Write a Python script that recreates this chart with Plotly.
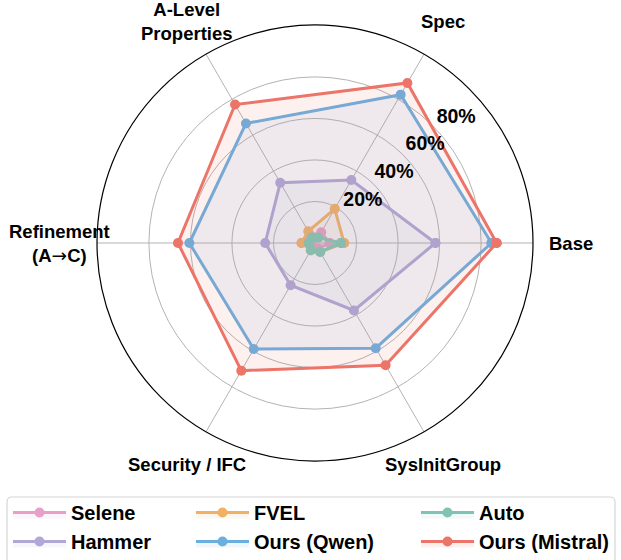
import math
import plotly.graph_objects as go

categories = ["Base", "Spec", "A-Level Properties", "Refinement (A→C)",
              "Security / IFC", "SysInitGroup"]
axis_labels = ["Base", "Spec", "A-Level<br>Properties",
               "Refinement<br>(A<span style='font-family:DejaVu Sans;font-weight:normal'>→</span>C)",
               "Security / IFC", "SysInitGroup"]

series_names = ["Selene", "Hammer", "FVEL", "Ours (Qwen)", "Auto", "Ours (Mistral)"]
selene = [7, 6, 4, 6.5, 3, 3]
hammer = [58, 35, 33.5, 24, 23.5, 37.5]
fvel = [14, 19, 6.5, 6.5, 4, 5]
qwen = [85, 82.5, 66.5, 60.5, 59, 58.5]
auto = [12.5, 3, 3, 3, 4, 5]
mistral = [87.5, 89, 77, 66, 71, 68]

tick_vals = [20, 40, 60, 80]
tick_text = ["20%", "40%", "60%", "80%"]

colors = {
    "Selene": "#e8a0c8",
    "Hammer": "#b1a8d8",
    "FVEL": "#f0b167",
    "Ours (Qwen)": "#6aafe0",
    "Auto": "#7dc4b6",
    "Ours (Mistral)": "#ec7468",
}
legend_of = {
    "Selene": "legend", "Hammer": "legend",
    "FVEL": "legend2", "Ours (Qwen)": "legend2",
    "Auto": "legend3", "Ours (Mistral)": "legend3",
}
values = [selene, hammer, fvel, qwen, auto, mistral]

def rgba(hexc, a):
    h = hexc.lstrip("#")
    r, g, b = int(h[0:2], 16), int(h[2:4], 16), int(h[4:6], 16)
    return f"rgba({r},{g},{b},{a})"

W, H = 621, 560
fig = go.Figure()

for name, vals in zip(series_names, values):
    c = colors[name]
    fig.add_trace(go.Scatterpolar(
        r=vals + [vals[0]],
        theta=categories + [categories[0]],
        mode="lines+markers",
        name=name,
        fill="toself",
        fillcolor=rgba(c, 0.10),
        line=dict(color=c, width=3),
        marker=dict(color=c, size=10),
        legend=legend_of[name],
        legendgroup=name,
        subplot="polar",
    ))

bold = dict(family="Liberation Sans, Arial", color="black", weight="bold")

# radial tick labels on an overlaid polar (same domain and range)
rlabel_shift = 10.8
rlabel_angle = 41.5
fig.add_trace(go.Scatterpolar(
    r=[v + rlabel_shift for v in tick_vals],
    theta=[rlabel_angle] * len(tick_vals),
    mode="text",
    text=tick_text,
    textposition="middle center",
    textfont=dict(size=19.5, **bold),
    showlegend=False,
    hoverinfo="skip",
    subplot="polar2",
))

# polar geometry (pixels)
cx, cy, R = 315, 243, 218
rmax = 105
dom = dict(x=[(cx - R) / W, (cx + R) / W], y=[(H - cy - R) / H, (H - cy + R) / H])

fig.update_layout(
    width=W, height=H,
    margin=dict(l=0, r=0, t=0, b=0, autoexpand=False),
    paper_bgcolor="white",
    polar=dict(
        domain=dom,
        bgcolor="white",
        radialaxis=dict(range=[0, rmax], tickvals=tick_vals, showticklabels=False,
                        showline=False, ticks="", gridcolor="#b3b3b3", gridwidth=1),
        angularaxis=dict(direction="counterclockwise", rotation=0,
                         categoryarray=categories, categoryorder="array",
                         showline=True, linecolor="black", linewidth=1.2,
                         gridcolor="#b3b3b3", gridwidth=1, ticks="",
                         showticklabels=False),
    ),
    polar2=dict(
        domain=dom,
        bgcolor="rgba(0,0,0,0)",
        radialaxis=dict(range=[0, rmax], visible=False),
        angularaxis=dict(type="linear", direction="counterclockwise", rotation=0,
                         visible=False),
    ),
)

# category labels centred on a circle just outside the plot
label_R = 256
n = len(categories)
for i, lab in enumerate(axis_labels):
    ang = math.radians(360 * i / n)
    fig.add_annotation(
        x=(cx + label_R * math.cos(ang)) / W,
        y=1 - (cy - label_R * math.sin(ang)) / H,
        xref="paper", yref="paper", text=lab, showarrow=False,
        xanchor="center", yanchor="middle", align="center",
        font=dict(size=18.5, **bold),
    )

legend_font = dict(family="Liberation Sans, Arial", size=20, color="black", weight="bold")
common = dict(orientation="v", xanchor="left", yanchor="middle", y=1 - 527 / H,
              bgcolor="rgba(0,0,0,0)", borderwidth=0, font=legend_font,
              itemwidth=53, traceorder="grouped", tracegroupgap=0)
fig.update_layout(
    legend=dict(x=8 / W, **common),
    legend2=dict(x=191 / W, **common),
    legend3=dict(x=416 / W, **common),
)

# legend frame (rounded top corners)
x0, x1, y0, y1, rr = 7, 615, 497, 580, 5
def px(x): return x / W
def py(y): return 1 - y / H
path = (f"M {px(x0)},{py(y1)} L {px(x0)},{py(y0 + rr)} "
        f"Q {px(x0)},{py(y0)} {px(x0 + rr)},{py(y0)} "
        f"L {px(x1 - rr)},{py(y0)} Q {px(x1)},{py(y0)} {px(x1)},{py(y0 + rr)} "
        f"L {px(x1)},{py(y1)}")
fig.add_shape(type="path", xref="paper", yref="paper", path=path,
              line=dict(color="#d6d6d6", width=1.2), layer="below")

fig.write_html("out.html")
